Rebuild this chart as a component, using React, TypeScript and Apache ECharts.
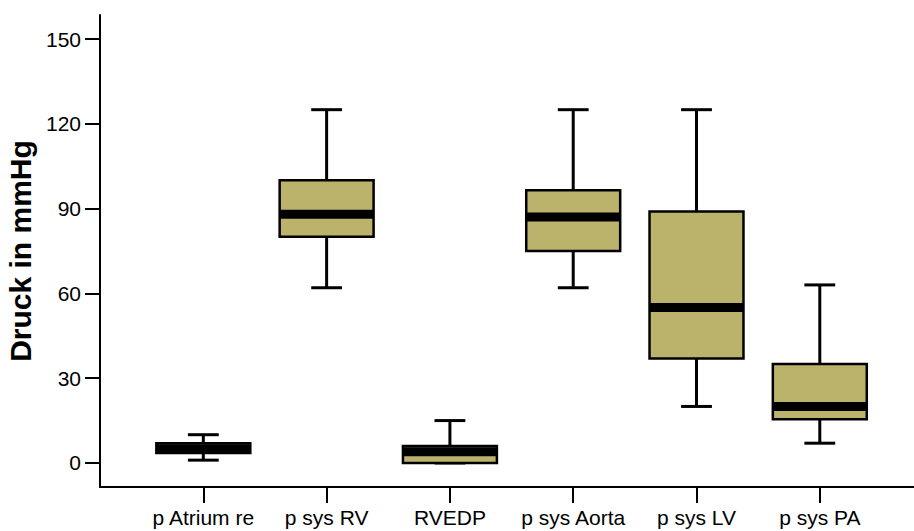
import React, { useEffect, useRef } from "react";
import * as echarts from "echarts";

// Blood pressure distributions per measurement site (mmHg)
const categories = ["p Atrium re", "p sys RV", "RVEDP", "p sys Aorta", "p sys LV", "p sys PA"];
const lowWhisker = [1, 62, 0, 62, 20, 7];
const quartile1 = [3.5, 80, 0, 75, 37, 15.5];
const medians = [5, 88, 4, 87, 55, 20];
const quartile3 = [7, 100, 6, 96.5, 89, 35];
const highWhisker = [10, 125, 15, 125, 125, 63];
const yTicks = [0, 30, 60, 90, 120, 150];

const FONT = "'Liberation Sans', Arial, Helvetica, sans-serif";
const BOX_FILL = "#bbb36b";

export default function App() {
  const ref = useRef<HTMLDivElement>(null);

  useEffect(() => {
    if (!ref.current) return;
    const chart = echarts.init(ref.current, undefined, { renderer: "svg" });

    const boxData = categories.map((_, i) => [
      i,
      lowWhisker[i],
      quartile1[i],
      medians[i],
      quartile3[i],
      highWhisker[i],
    ]);

    const renderBox = (params: any, api: any) => {
      const x = api.value(0);
      const band = api.size([1, 0])[0];
      const boxW = band * 0.762;
      const capW = band * 0.25;
      const [cx, yMin] = api.coord([x, api.value(1)]);
      const yQ1 = api.coord([x, api.value(2)])[1];
      const yMed = api.coord([x, api.value(3)])[1];
      const yQ3 = api.coord([x, api.value(4)])[1];
      const yMax = api.coord([x, api.value(5)])[1];
      const lineStyle = { stroke: "#000", lineWidth: 3, fill: null };
      const medH = 9;
      return {
        type: "group",
        children: [
          { type: "line", shape: { x1: cx, y1: yMax, x2: cx, y2: yQ3 }, style: lineStyle },
          { type: "line", shape: { x1: cx, y1: yQ1, x2: cx, y2: yMin }, style: lineStyle },
          { type: "line", shape: { x1: cx - capW / 2, y1: yMax, x2: cx + capW / 2, y2: yMax }, style: lineStyle },
          { type: "line", shape: { x1: cx - capW / 2, y1: yMin, x2: cx + capW / 2, y2: yMin }, style: lineStyle },
          {
            type: "rect",
            shape: { x: cx - boxW / 2, y: yQ3, width: boxW, height: yQ1 - yQ3 },
            style: { fill: BOX_FILL, stroke: "#000", lineWidth: 2.5 },
          },
          {
            type: "rect",
            shape: { x: cx - boxW / 2, y: yMed - medH / 2, width: boxW, height: medH },
            style: { fill: "#000" },
          },
        ],
      };
    };

    chart.setOption({
      animation: false,
      backgroundColor: "#fff",
      grid: {
        left: 100,
        right: 0,
        top: 15,
        bottom: 44,
        containLabel: false,
        outerBoundsMode: "none",
      },
      xAxis: {
        type: "value",
        min: -0.838,
        max: 5.764,
        splitLine: { show: false },
        axisLine: { show: true, onZero: false, lineStyle: { color: "#000", width: 2 } },
        axisTick: {
          show: true,
          customValues: categories.map((_, i) => i),
          length: 16,
          lineStyle: { color: "#000", width: 2 },
        },
        axisLabel: {
          customValues: categories.map((_, i) => i),
          formatter: (v: number) => categories[Math.round(v)] ?? "",
          color: "#000",
          fontFamily: FONT,
          fontSize: 21,
          margin: 20,
        },
      },
      yAxis: {
        type: "value",
        min: -8.5,
        max: 158.5,
        name: "Druck in mmHg",
        nameLocation: "middle",
        nameGap: 58,
        nameTextStyle: { color: "#000", fontFamily: FONT, fontSize: 30, fontWeight: "bold" },
        splitLine: { show: false },
        axisLine: { show: true, onZero: false, lineStyle: { color: "#000", width: 2 } },
        axisTick: {
          show: true,
          customValues: yTicks,
          length: 15,
          lineStyle: { color: "#000", width: 2 },
        },
        axisLabel: {
          customValues: yTicks,
          color: "#000",
          fontFamily: FONT,
          fontSize: 21,
          margin: 19,
        },
      },
      series: [
        {
          type: "custom",
          renderItem: renderBox,
          data: boxData,
          encode: { x: 0, y: [1, 2, 3, 4, 5] },
          clip: false,
        },
      ],
    });

    return () => chart.dispose();
  }, []);

  return (
    <div
      ref={ref}
      style={{ position: "fixed", left: 0, top: 0, width: 914, height: 531, background: "#fff" }}
    />
  );
}
